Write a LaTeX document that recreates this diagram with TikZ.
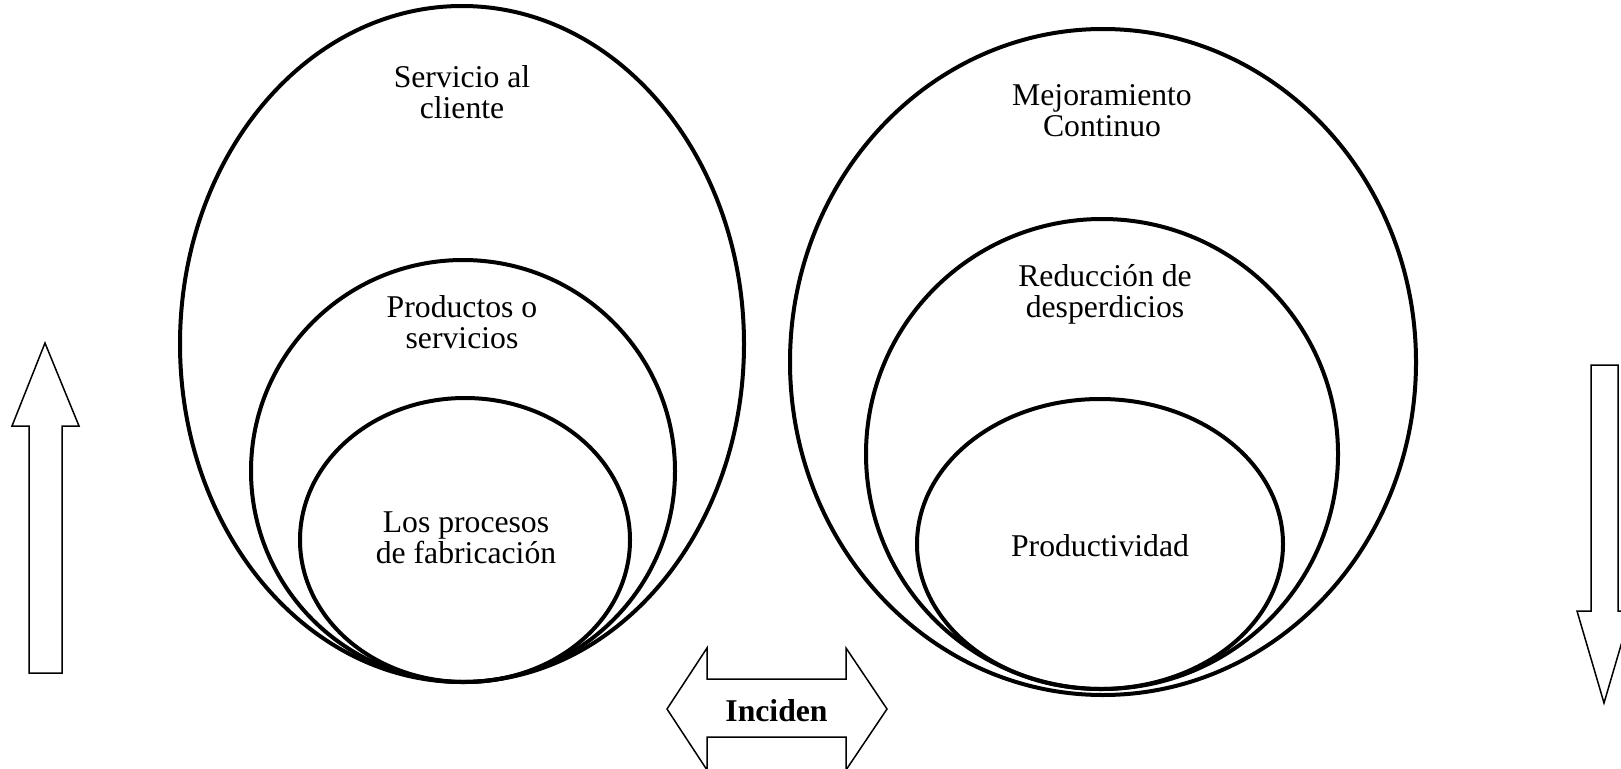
\documentclass[tikz,border=0pt]{standalone}
\usepackage{fontspec}
\setmainfont{Liberation Serif}
\begin{document}
\begin{tikzpicture}[x=1pt,y=-1pt,
  ring/.style={draw=black,line width=4pt},
  blockarrow/.style={draw=black,line width=1.5pt,fill=white,line join=miter},
  label/.style={align=center,anchor=base,inner sep=0pt,font=\fontsize{31.7}{31}\selectfont}]
\useasboundingbox (0,0) rectangle (1621,768);
\clip (0,0) rectangle (1621,768);

% left group of nested ellipses
\draw[ring] (462,344) ellipse [x radius=282,y radius=338];
\draw[ring] (463,471) ellipse [x radius=212,y radius=211];
\draw[ring] (465,540) ellipse [x radius=165,y radius=142];

% right group of nested ellipses
\draw[ring] (1103,362) ellipse [x radius=313,y radius=333];
\draw[ring] (1102,454) ellipse [x radius=236,y radius=235];
\draw[ring] (1100,544) ellipse [x radius=183,y radius=145];

% labels (base anchor sits on the last line of a two-line label)
\node[label] (servicio) at (462,118) {Servicio al\\cliente};
\node[label] (productos) at (462,348) {Productos o\\servicios};
\node[label] (procesos) at (466,563) {Los procesos\\de fabricación};
\node[label] (mejora) at (1102,136) {Mejoramiento\\Continuo};
\node[label] (reduccion) at (1105,317) {Reducción de\\desperdicios};
\node[label] (productividad) at (1100,556) {Productividad};

% upward block arrow
\draw[blockarrow] (45,343) -- (79,426) -- (62,426) -- (62,673) -- (29,673)
  -- (29,426) -- (12,426) -- cycle;

% downward block arrow
\draw[blockarrow] (1591,365) -- (1618,365) -- (1618,611) -- (1631,611)
  -- (1604,703) -- (1577,611) -- (1591,611) -- cycle;

% double-headed block arrow
\draw[blockarrow] (667,709) -- (707,648) -- (707,679) -- (846,679) -- (846,648)
  -- (887,709) -- (846,770) -- (846,737) -- (707,737) -- (707,770) -- cycle;
\node[label,font=\fontsize{31.7}{31}\selectfont\bfseries] (inciden) at (776.5,721) {Inciden};
\end{tikzpicture}
\end{document}
